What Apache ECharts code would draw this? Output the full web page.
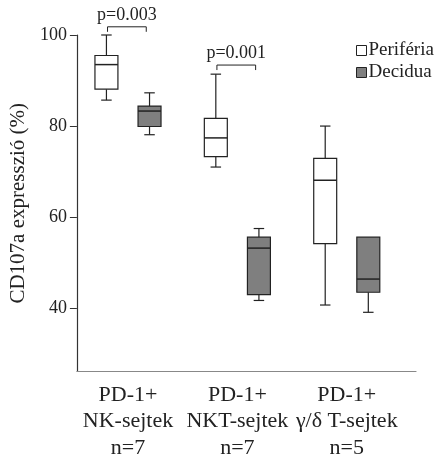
<!DOCTYPE html>
<html>
<head>
<meta charset="utf-8">
<script src="https://cdn.jsdelivr.net/npm/echarts@6/dist/echarts.min.js"></script>
<style>
    html, body { margin: 0; padding: 0; background: #fff; }
    #chart { width: 435px; height: 461px; }
</style>
</head>
<body>
<div id="chart"></div>
<script>
    // categories on the x axis
    const categories = ['PD-1+\nNK-sejtek\nn=7', 'PD-1+\nNKT-sejtek\nn=7', 'PD-1+\nγ/δ T-sejtek\nn=5']
    const yTicks = [40, 60, 80, 100]
    // box values: [min, Q1, median, Q3, max]
    const periferia = [
        [85.7, 88.1, 93.5, 95.5, 100],
        [71.0, 73.3, 77.4, 81.7, 91.4],
        [40.7, 54.2, 68.1, 72.9, 80.0]
    ]
    const decidua = [
        [78.1, 79.9, 83.3, 84.4, 87.3],
        [41.7, 43.0, 53.2, 55.6, 57.5],
        [39.1, 43.5, 46.4, 55.6, 55.6]
    ]
    // significance brackets (one per first two groups)
    const pTexts = ['p=0.003', 'p=0.001']
    const pLevels = [101.8, 93.4]

    const FONT = '"Liberation Serif", "DejaVu Serif", serif'
    const OFFSET = 0.197   // box centre offset from the group centre
    const HALF = 0.105     // half box width
    const CAP = 0.048      // half whisker cap width

    function boxRender(fill) {
        return function (params, api) {
            const x = api.value(0)
            const pMin = api.coord([x, api.value(1)])
            const pQ1 = api.coord([x, api.value(2)])
            const pMed = api.coord([x, api.value(3)])
            const pQ3 = api.coord([x, api.value(4)])
            const pMax = api.coord([x, api.value(5)])
            const left = api.coord([x - HALF, 0])[0]
            const right = api.coord([x + HALF, 0])[0]
            const capL = api.coord([x - CAP, 0])[0]
            const capR = api.coord([x + CAP, 0])[0]
            const line = { stroke: '#222', lineWidth: 1.2 }
            const children = []
            if (api.value(5) > api.value(4)) {
                children.push({ type: 'line', shape: { x1: pQ3[0], y1: pQ3[1], x2: pMax[0], y2: pMax[1] }, style: line })
                children.push({ type: 'line', shape: { x1: capL, y1: pMax[1], x2: capR, y2: pMax[1] }, style: line })
            }
            children.push({ type: 'line', shape: { x1: pMin[0], y1: pMin[1], x2: pQ1[0], y2: pQ1[1] }, style: line })
            children.push({ type: 'line', shape: { x1: capL, y1: pMin[1], x2: capR, y2: pMin[1] }, style: line })
            children.push({
                type: 'rect',
                shape: { x: left, y: pQ3[1], width: right - left, height: pQ1[1] - pQ3[1] },
                style: { fill: fill, stroke: '#222', lineWidth: 1.2 }
            })
            children.push({ type: 'line', shape: { x1: left, y1: pMed[1], x2: right, y2: pMed[1] }, style: { stroke: '#222', lineWidth: 1.5 } })
            return { type: 'group', children: children }
        }
    }

    function bracketRender(params, api) {
        const a = api.coord([api.value(0), api.value(2)])
        const b = api.coord([api.value(1), api.value(2)])
        const drop = 5
        return {
            type: 'group',
            children: [
                {
                    type: 'polyline',
                    shape: { points: [[a[0], a[1] + drop], a, b, [b[0], b[1] + drop]] },
                    style: { stroke: '#222', lineWidth: 1, fill: null }
                },
                {
                    type: 'text',
                    style: {
                        text: pTexts[params.dataIndex],
                        x: (a[0] + b[0]) / 2, y: a[1] - 3,
                        align: 'center', verticalAlign: 'bottom',
                        font: '18px ' + FONT, fill: '#222'
                    }
                }
            ]
        }
    }

    const myChart = echarts.init(document.getElementById('chart'))
    const options = {
        animation: false,
        grid: { left: 76, right: 19, top: 35, bottom: 84 },
        legend: {
            data: ['Periféria', 'Decidua'],
            orient: 'vertical',
            left: 356,
            top: 41,
            icon: 'rect',
            itemWidth: 10,
            itemHeight: 10,
            itemGap: 3,
            padding: 0,
            itemStyle: { borderColor: '#222', borderWidth: 1 },
            textStyle: { fontFamily: FONT, fontSize: 19, color: '#222', padding: [0, 0, 0, -3] }
        },
        xAxis: {
            type: 'value',
            min: 0.533,
            max: 3.633,
            axisLine: { show: true, lineStyle: { color: '#888', width: 1.2 } },
            axisTick: { show: false },
            splitLine: { show: false },
            axisLabel: {
                customValues: [1, 2, 3],
                formatter: (v) => categories[Math.round(v) - 1],
                fontFamily: FONT,
                fontSize: 22,
                lineHeight: 26.5,
                color: '#222',
                margin: 10
            }
        },
        yAxis: {
            type: 'value',
            min: 26.1,
            max: 100,
            name: 'CD107a expresszió (%)',
            nameLocation: 'middle',
            nameGap: 41,
            nameTextStyle: { fontFamily: FONT, fontSize: 21, color: '#222' },
            axisLine: { show: true, lineStyle: { color: '#333', width: 1.2 } },
            axisTick: { show: true, customValues: yTicks, length: 7, lineStyle: { color: '#333' } },
            splitLine: { show: false },
            axisLabel: {
                customValues: yTicks,
                fontFamily: FONT,
                fontSize: 18,
                color: '#222',
                margin: 10
            }
        },
        series: [
            {
                name: 'Periféria',
                type: 'custom',
                itemStyle: { color: '#ffffff' },
                renderItem: boxRender('#ffffff'),
                encode: { x: 0, y: [1, 2, 3, 4, 5] },
                data: periferia.map((b, i) => [i + 1 - OFFSET].concat(b))
            },
            {
                name: 'Decidua',
                type: 'custom',
                itemStyle: { color: '#7f7f7f' },
                renderItem: boxRender('#7f7f7f'),
                encode: { x: 0, y: [1, 2, 3, 4, 5] },
                data: decidua.map((b, i) => [i + 1 + OFFSET].concat(b))
            },
            {
                type: 'custom',
                silent: true,
                renderItem: bracketRender,
                encode: { x: [0, 1], y: 2 },
                data: pLevels.map((lv, i) => [i + 1 - OFFSET + 0.01, i + 1 + OFFSET - 0.03, lv])
            }
        ]
    }
    myChart.setOption(options)
    window.addEventListener('resize', myChart.resize)
</script>
</body>
</html>
